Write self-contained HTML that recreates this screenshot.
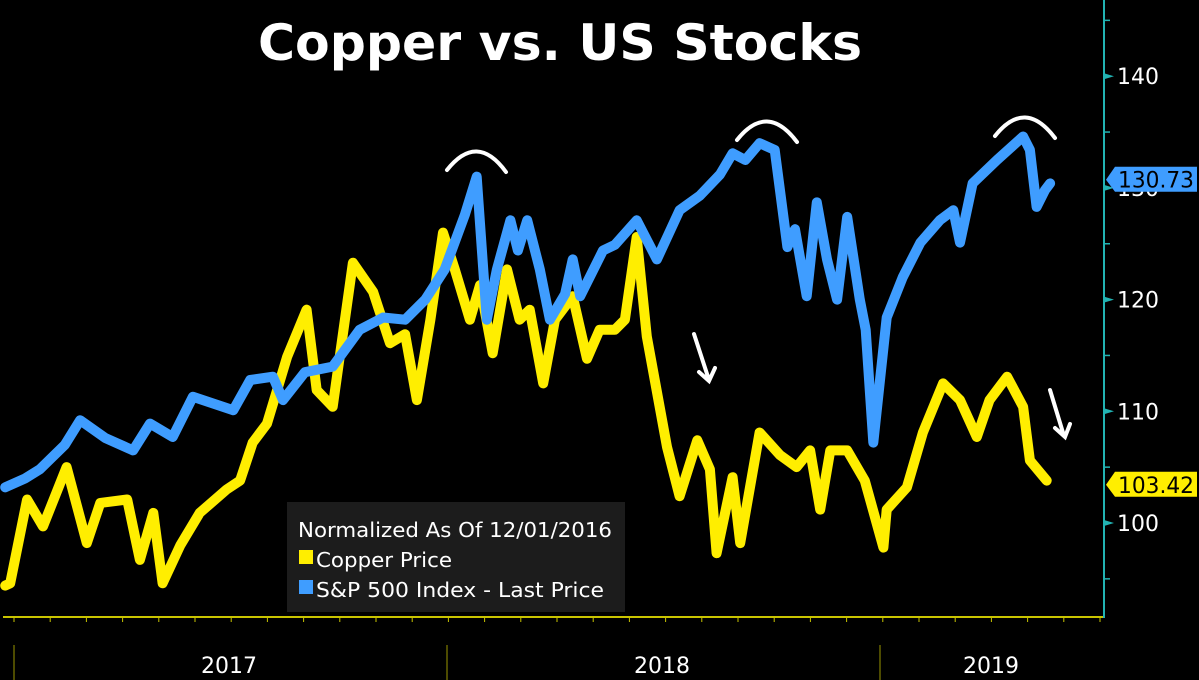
<!DOCTYPE html>
<html><head><meta charset="utf-8"><style>
html,body{margin:0;padding:0;background:#000;}
svg{display:block;font-family:"DejaVu Sans","Liberation Sans",sans-serif;}
</style></head><body>
<svg id="chart" width="1199" height="680" viewBox="0 0 1199 680" xmlns="http://www.w3.org/2000/svg">
<rect x="0" y="0" width="1199" height="680" fill="#000"/>
<text x="258" y="60" fill="#fff" font-size="50" font-weight="bold" textLength="604" lengthAdjust="spacingAndGlyphs">Copper vs. US Stocks</text>
<g id="axes"></g>
<g id="series"></g>
<g id="annotations" stroke="#fff" stroke-width="4" fill="none" stroke-linecap="round">
<path d="M447,170 Q477,132 506,172"/>
<path d="M737,140 Q767,102 797,142"/>
<path d="M995,136 Q1025,98 1055,138"/>
<path d="M694,334 L709,380 M699,372 L709,381 L715,368"/>
<path d="M1050,390 L1064,436 M1055,428 L1065,437 L1070,424"/>
</g>
<g>
<rect x="287" y="502" width="338" height="110" fill="#1c1c1c"/>
<text x="298" y="537" fill="#fff" font-size="20" textLength="314" lengthAdjust="spacingAndGlyphs">Normalized As Of 12/01/2016</text>
<rect x="299" y="550" width="14" height="14" fill="#ffee00"/>
<text x="316" y="567" fill="#fff" font-size="20" textLength="136" lengthAdjust="spacingAndGlyphs">Copper Price</text>
<rect x="299" y="580" width="14" height="14" fill="#3f9dff"/>
<text x="316" y="597" fill="#fff" font-size="20" textLength="288" lengthAdjust="spacingAndGlyphs">S&amp;P 500 Index - Last Price</text>
</g>
</svg>
<script>
// time in weeks since start of 2017
const spWeeks=[-0.1,2.3,4.0,7.0,8.8,11.8,15.1,17.1,19.8,22.2,27.0,29.0,31.7,32.9,35.5,38.8,42.0,44.8,47.4,49.8,52.1,54.5,55.9,57.1,58.3,59.9,60.8,61.9,63.4,64.6,66.4,67.3,68.2,70.9,72.3,74.9,77.3,80.0,82.4,84.8,86.3,87.8,89.5,91.3,92.8,93.7,95.1,96.3,97.5,98.7,99.9,101.4,102.1,103.0,104.6,106.5,108.6,110.9,112.5,113.3,114.8,117.7,120.8,121.6,122.4,123.4,124.0];
const spValues=[103.2,104.0,104.8,107.0,109.2,107.6,106.5,108.9,107.7,111.3,110.1,112.8,113.1,111.0,113.5,114.0,117.3,118.4,118.2,120.0,122.7,127.6,131.0,118.2,122.7,127.1,124.4,127.1,122.7,118.2,120.5,123.6,120.3,124.4,124.9,127.1,123.6,128.0,129.3,131.2,133.1,132.5,134.0,133.4,124.7,126.3,120.3,128.7,123.6,120.0,127.4,120.0,117.3,107.2,118.4,122.0,125.1,127.1,128.0,125.1,130.4,132.5,134.6,133.4,128.3,129.8,130.4];
const cuWeeks=[-0.1,0.5,2.5,4.4,7.2,9.6,11.2,14.4,15.9,17.5,18.6,20.7,23.0,26.2,27.8,29.3,31.0,33.4,35.7,36.9,38.8,41.2,43.6,45.6,47.4,48.8,50.4,51.9,53.3,55.1,56.3,57.8,59.5,61.0,62.2,63.8,65.2,67.3,69.0,70.5,72.3,73.5,74.9,76.1,78.5,80.0,82.1,83.6,84.4,86.3,87.2,89.5,91.9,93.9,95.5,96.7,97.9,99.9,102.0,104.2,104.6,107.0,108.9,111.3,113.3,115.3,116.8,118.9,120.8,121.6,123.6];
const cuValues=[94.4,94.6,102.1,99.7,105.0,98.2,101.8,102.1,96.7,100.9,94.6,98.0,100.9,103.0,103.8,107.2,108.9,114.9,119.1,111.9,110.4,123.3,120.7,116.1,116.9,111.0,118.2,126.0,122.7,118.2,121.3,115.2,122.7,118.2,119.1,112.5,118.2,120.3,114.7,117.3,117.3,118.2,125.6,116.7,106.8,102.4,107.4,104.8,97.3,104.1,98.2,108.1,106.1,105.0,106.5,101.2,106.5,106.5,103.8,97.8,101.2,103.2,108.1,112.5,111.0,107.7,111.0,113.1,110.4,105.6,103.8];
const axisTicks=[100,110,120,130,140];
const axisMinor=[95,105,115,125,135,145];
const yearLabels=["2017","2018","2019"];
const lastValues=["130.73","103.42"];

const NS="http://www.w3.org/2000/svg";
function xScale(w){return 6+w*8.42;}
function yAxis(v){return 523-(v-100)*11.17;}
function mk(tag,attrs,parent){const e=document.createElementNS(NS,tag);for(const k in attrs)e.setAttribute(k,attrs[k]);parent.appendChild(e);return e;}
const axes=document.getElementById('axes');
const series=document.getElementById('series');

const bx=mk('line',{x1:3,y1:617,x2:1104,y2:617,stroke:'#c9c400','stroke-width':2},axes);


for(let k=0;k<31;k++){
  const x=14+k*36.2;
  if(x>1102)break;
  const t=mk('line',{x1:x,y1:617,x2:x,y2:622,stroke:'#c9c400','stroke-width':1},axes);
  
  
}
yearLabels.forEach((lab,i)=>{
  const sx=14+i*433;
  const s=mk('line',{x1:sx,y1:645,x2:sx,y2:680,stroke:'#9a9600','stroke-width':1},axes);
  
  
  const cx=[229,662,991][i];
  const t=mk('text',{x:cx,y:673,'text-anchor':'middle',fill:'#fff','font-size':22},axes);
  t.textContent=lab;
  
  
});
const ry=mk('line',{x1:1104,y1:0,x2:1104,y2:618,stroke:'#22b3b3','stroke-width':2},axes);


axisMinor.forEach(v=>{
  const y=yAxis(v);
  const t=mk('line',{x1:1104,y1:y,x2:1110,y2:y,stroke:'#22b3b3','stroke-width':1.5},axes);
  
  
});
axisTicks.forEach(v=>{
  const y=yAxis(v);
  const t=mk('path',{d:`M1104,${y-3} L1114,${y} L1104,${y+3} Z`,fill:'#22b3b3'},axes);
  
  
  const l=mk('text',{x:1117,y:y+8,fill:'#fff','font-size':22},axes);
  l.textContent=v;
  
  
});

function line(ws,vs,color,name){
  const pts=ws.map((w,i)=>xScale(w).toFixed(1)+','+yAxis(vs[i]).toFixed(1)).join(' ');
  const p=mk('polyline',{points:pts,fill:'none',stroke:color,'stroke-width':10,'stroke-linejoin':'round','stroke-linecap':'round'},series);
  
  
}
line(cuWeeks,cuValues,'#ffee00','copper-price-line');
line(spWeeks,spValues,'#3f9dff','sp500-line');

function tag(val,color,name){
  const y=yAxis(parseFloat(val));
  const g=mk('g',{},axes);
  
  
  mk('path',{d:`M1106,${y} L1115,${y-13} L1197,${y-13} L1197,${y+12} L1115,${y+12} Z`,fill:color},g);
  const t=mk('text',{x:1118,y:y+8,fill:'#000','font-size':22,textLength:76,lengthAdjust:'spacingAndGlyphs'},g);
  t.textContent=val;
}
tag(lastValues[0],'#3f9dff','sp500-last-value-tag');
tag(lastValues[1],'#ffee00','copper-last-value-tag');
</script>
</body></html>
